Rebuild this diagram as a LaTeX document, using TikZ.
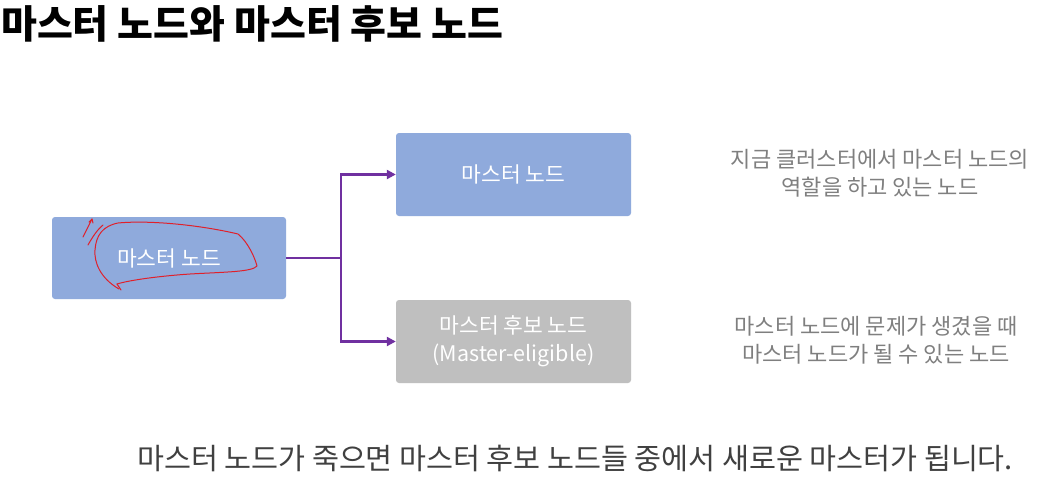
\documentclass[tikz,border=0pt]{standalone}
\usepackage{fontspec}
\setmainfont{Noto Sans CJK KR}
\usetikzlibrary{arrows.meta}
\definecolor{boxblue}{HTML}{8FAADC}
\definecolor{boxgray}{HTML}{BFBFBF}
\definecolor{conn}{HTML}{7030A0}
\definecolor{desc}{HTML}{7F7F7F}
\definecolor{bottomtxt}{HTML}{404040}
\definecolor{scribble}{HTML}{E0202A}
\tikzset{
  nodebox/.style={rounded corners=3pt, minimum width=235pt, minimum height=83pt, text=white, font=\fontsize{21.5}{28}\selectfont, align=center, inner sep=0pt},
  bluebox/.style={nodebox, fill=boxblue},
  graybox/.style={nodebox, fill=boxgray},
  conline/.style={draw=conn, line width=2.4pt},
  conarrow/.style={conline, -{Triangle[length=9pt,width=9pt]}},
  desctext/.style={text=desc, font=\fontsize{22}{27.5}\selectfont, align=center, inner sep=0pt},
  redline/.style={draw=scribble, line width=1pt, line cap=round, line join=round}
}
\begin{document}
\begin{tikzpicture}[x=1pt,y=-1pt]
\useasboundingbox (0,0) rectangle (1042,498);
\fill[white] (0,0) rectangle (1042,498);
% title
\node[anchor=west, inner sep=0pt, font=\fontsize{39}{44}\selectfont\bfseries] (title) at (1,24) {마스터 노드와 마스터 후보 노드};
% boxes
\node[bluebox, minimum width=234pt, minimum height=82pt] (src) at (169,258) {마스터 노드};
\node[bluebox] (master) at (513.5,174.5) {마스터 노드};
\node[graybox] (cand) at (513.5,341.5) {마스터 후보 노드\\(Master-eligible)};
% connectors
\coordinate (split) at (341,258);
\draw[conline] (src.east) -- (split);
\draw[conarrow] (split) |- (master.west);
\draw[conarrow] (split) |- (cand.west);
% descriptions
\node[desctext] (d1) at (880,173.5) {지금 클러스터에서 마스터 노드의\\역할을 하고 있는 노드};
\node[desctext] (d2) at (876,340.5) {마스터 노드에 문제가 생겼을 때\\마스터 노드가 될 수 있는 노드};
% bottom sentence
\node[anchor=west, inner sep=0pt, text=bottomtxt, font=\fontsize{29.3}{34}\selectfont] (summary) at (137,458) {마스터 노드가 죽으면 마스터 후보 노드들 중에서 새로운 마스터가 됩니다.};
% red scribble
\draw[redline] (119,289) .. controls (100,278) and (94,262) .. (95,250)
  .. controls (96,235) and (103,226) .. (118,223)
  .. controls (150,220) and (200,225) .. (238,234)
  .. controls (248,242) and (255,258) .. (257,266)
  .. controls (252,272) and (225,272) .. (190,274)
  .. controls (160,276) and (130,280) .. (117,284);
\draw[redline] (117,284) -- (121,290);
\draw[redline] (83,237) -- (92,219) -- (89,222);
\draw[redline] (92,219) -- (93,223);
\draw[redline] (88,245) .. controls (93,236) and (98,229) .. (103,225);
\end{tikzpicture}
\end{document}
